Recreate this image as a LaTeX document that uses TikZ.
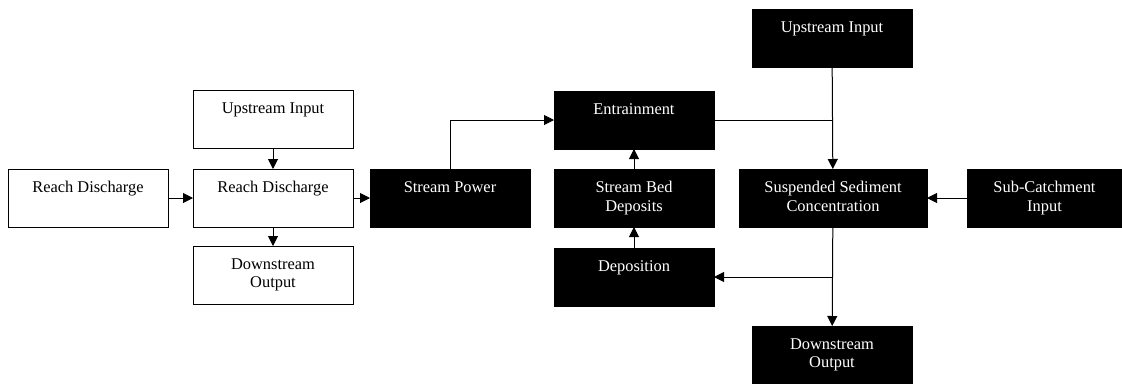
\documentclass[tikz,border=0pt]{standalone}
\usepackage{fontspec}
\setmainfont{Liberation Serif}
\usetikzlibrary{arrows.meta}

\begin{document}
\begin{tikzpicture}[x=0.75pt,y=-0.75pt,
  wbox/.style={draw=black,fill=white,line width=0.75pt,minimum width=120pt,minimum height=43.5pt,anchor=north west,inner sep=0pt,outer sep=0pt},
  bbox/.style={wbox,fill=black},
  txt/.style={anchor=north,inner sep=0pt,align=center,font=\fontsize{12.3}{14}\selectfont},
  wtxt/.style={txt,text=white},
  arr/.style={line width=0.75pt,-{Triangle[length=7.5pt,width=7.5pt]}}]
  \useasboundingbox (0,0) rectangle (1122,383);

  % hydrology (white boxes)
  \node[wbox] (rd1) at (8,169) {};
  \node[txt] (rd1-t) at ([yshift=-9pt]rd1.north) {Reach Discharge};
  \node[wbox] (ui1) at (193,90) {};
  \node[txt] (ui1-t) at ([yshift=-9pt]ui1.north) {Upstream Input};
  \node[wbox] (rd2) at (193,169) {};
  \node[txt] (rd2-t) at ([yshift=-9pt]rd2.north) {Reach Discharge};
  \node[wbox] (do1) at (193,246) {};
  \node[txt] (do1-t) at ([yshift=-9pt]do1.north) {Downstream\\Output};

  % sediment (black boxes)
  \node[bbox] (sp) at (370,169) {};
  \node[wtxt] (sp-t) at ([yshift=-9pt]sp.north) {Stream Power};
  \node[bbox] (en) at (554,91) {};
  \node[wtxt] (en-t) at ([yshift=-9pt]en.north) {Entrainment};
  \node[bbox] (sbd) at (554,169) {};
  \node[wtxt] (sbd-t) at ([yshift=-9pt]sbd.north) {Stream Bed\\Deposits};
  \node[bbox] (dep) at (554,248) {};
  \node[wtxt] (dep-t) at ([yshift=-9pt]dep.north) {Deposition};
  \node[bbox] (ui2) at (752,9) {};
  \node[wtxt] (ui2-t) at ([yshift=-9pt]ui2.north) {Upstream Input};
  \node[bbox,minimum width=141pt] (ssc) at (739,169) {};
  \node[wtxt] (ssc-t) at ([yshift=-9pt]ssc.north) {Suspended Sediment\\Concentration};
  \node[bbox,minimum width=116.25pt] (sci) at (967,169) {};
  \node[wtxt] (sci-t) at ([yshift=-9pt]sci.north) {Sub-Catchment\\Input};
  \node[bbox] (do2) at (752,326) {};
  \node[wtxt] (do2-t) at ([yshift=-9pt]do2.north) {Downstream\\Output};

  % connectors
  \draw[arr] (rd1) -- (rd2);
  \draw[arr] (ui1) -- (rd2);
  \draw[arr] (rd2) -- (do1);
  \draw[arr] (rd2) -- (sp);
  \draw[arr] (sp.north) |- (en.west);
  \draw[arr] (sbd) -- (en);
  \draw[arr] (dep) -- (sbd);
  \draw[line width=0.75pt] (en.east) -- (en.east -| ssc.north);
  \draw[arr] (ui2) -- (ssc);
  \draw[arr] (sci) -- (ssc);
  \draw[arr] (ssc) -- (do2);
  \draw[arr] (ssc.south |- dep.east) -- (dep.east);
\end{tikzpicture}
\end{document}
